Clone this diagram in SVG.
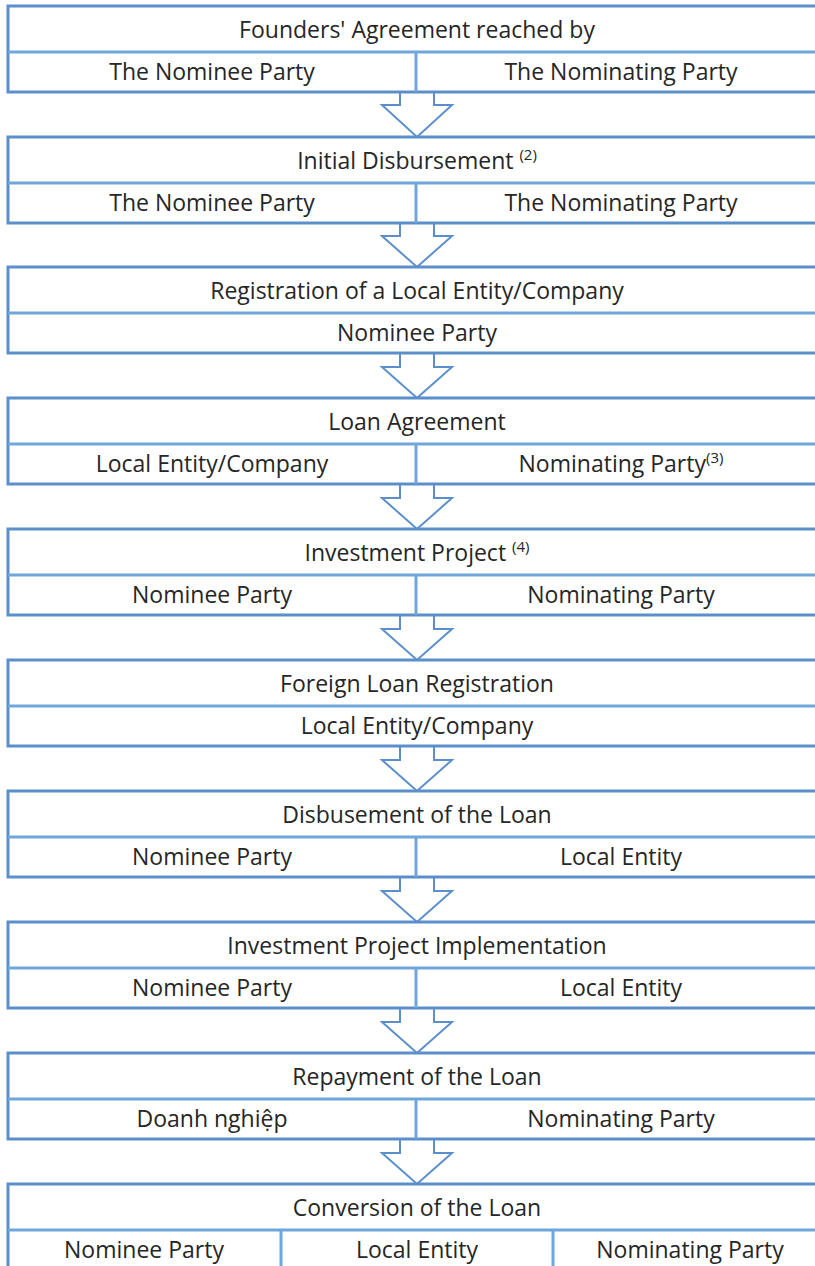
<svg xmlns="http://www.w3.org/2000/svg" width="815" height="1266" viewBox="0 0 815 1266">
<style>
.box{fill:#fff;stroke:#5B8FCB;stroke-width:3}
.div{stroke:#6FA6DC;stroke-width:3;fill:none}
.arr{fill:#fff;stroke:#5B8FCB;stroke-width:2;stroke-linejoin:miter}
text{font-family:"Open Sans","Noto Sans","Liberation Sans",sans-serif;font-size:23px;fill:#262626;text-anchor:middle}
.sup{font-size:15px}
</style>
<rect width="815" height="1266" fill="#fff"/>
<g id="connectors">
<path class="arr" d="M400,92 V105 H382 L417,137 L452,105 H434 V92"/>
<path class="arr" d="M400,223 V236 H382 L417,267 L452,236 H434 V223"/>
<path class="arr" d="M400,353 V367 H382 L417,398 L452,367 H434 V353"/>
<path class="arr" d="M400,484 V498 H382 L417,529 L452,498 H434 V484"/>
<path class="arr" d="M400,615 V629 H382 L417,660 L452,629 H434 V615"/>
<path class="arr" d="M400,746 V760 H382 L417,791 L452,760 H434 V746"/>
<path class="arr" d="M400,877 V891 H382 L417,922 L452,891 H434 V877"/>
<path class="arr" d="M400,1008 V1022 H382 L417,1053 L452,1022 H434 V1008"/>
<path class="arr" d="M400,1139 V1153 H382 L417,1184 L452,1153 H434 V1139"/>
</g>
<g id="n1">
<rect class="box" x="8" y="6" width="818" height="86"/>
<path class="div" d="M8,52 H826 M416,52 V92"/>
<text x="417" y="38">Founders' Agreement reached by</text>
<text x="212" y="80">The Nominee Party</text>
<text x="621" y="80">The Nominating Party</text>
</g>
<g id="n2">
<rect class="box" x="8" y="137" width="818" height="86"/>
<path class="div" d="M8,183 H826 M416,183 V223"/>
<text x="417" y="169">Initial Disbursement <tspan class="sup" dy="-9">(2)</tspan></text>
<text x="212" y="211">The Nominee Party</text>
<text x="621" y="211">The Nominating Party</text>
</g>
<g id="n3">
<rect class="box" x="8" y="267" width="818" height="86"/>
<path class="div" d="M8,313 H826"/>
<text x="417" y="299">Registration of a Local Entity/Company</text>
<text x="417" y="341">Nominee Party</text>
</g>
<g id="n4">
<rect class="box" x="8" y="398" width="818" height="86"/>
<path class="div" d="M8,444 H826 M416,444 V484"/>
<text x="417" y="430">Loan Agreement</text>
<text x="212" y="472">Local Entity/Company</text>
<text x="621" y="472">Nominating Party<tspan class="sup" dy="-9">(3)</tspan></text>
</g>
<g id="n5">
<rect class="box" x="8" y="529" width="818" height="86"/>
<path class="div" d="M8,575 H826 M416,575 V615"/>
<text x="417" y="561">Investment Project <tspan class="sup" dy="-9">(4)</tspan></text>
<text x="212" y="603">Nominee Party</text>
<text x="621" y="603">Nominating Party</text>
</g>
<g id="n6">
<rect class="box" x="8" y="660" width="818" height="86"/>
<path class="div" d="M8,706 H826"/>
<text x="417" y="692">Foreign Loan Registration</text>
<text x="417" y="734">Local Entity/Company</text>
</g>
<g id="n7">
<rect class="box" x="8" y="791" width="818" height="86"/>
<path class="div" d="M8,837 H826 M416,837 V877"/>
<text x="417" y="823">Disbusement of the Loan</text>
<text x="212" y="865">Nominee Party</text>
<text x="621" y="865">Local Entity</text>
</g>
<g id="n8">
<rect class="box" x="8" y="922" width="818" height="86"/>
<path class="div" d="M8,968 H826 M416,968 V1008"/>
<text x="417" y="954">Investment Project Implementation</text>
<text x="212" y="996">Nominee Party</text>
<text x="621" y="996">Local Entity</text>
</g>
<g id="n9">
<rect class="box" x="8" y="1053" width="818" height="86"/>
<path class="div" d="M8,1099 H826 M416,1099 V1139"/>
<text x="417" y="1085">Repayment of the Loan</text>
<text x="212" y="1127">Doanh nghiệp</text>
<text x="621" y="1127">Nominating Party</text>
</g>
<g id="n10">
<rect class="box" x="8" y="1184" width="818" height="86"/>
<path class="div" d="M8,1230 H826 M281,1230 V1270 M553,1230 V1270"/>
<text x="417" y="1216">Conversion of the Loan</text>
<text x="144" y="1258">Nominee Party</text>
<text x="417" y="1258">Local Entity</text>
<text x="690" y="1258">Nominating Party</text>
</g>
</svg>
